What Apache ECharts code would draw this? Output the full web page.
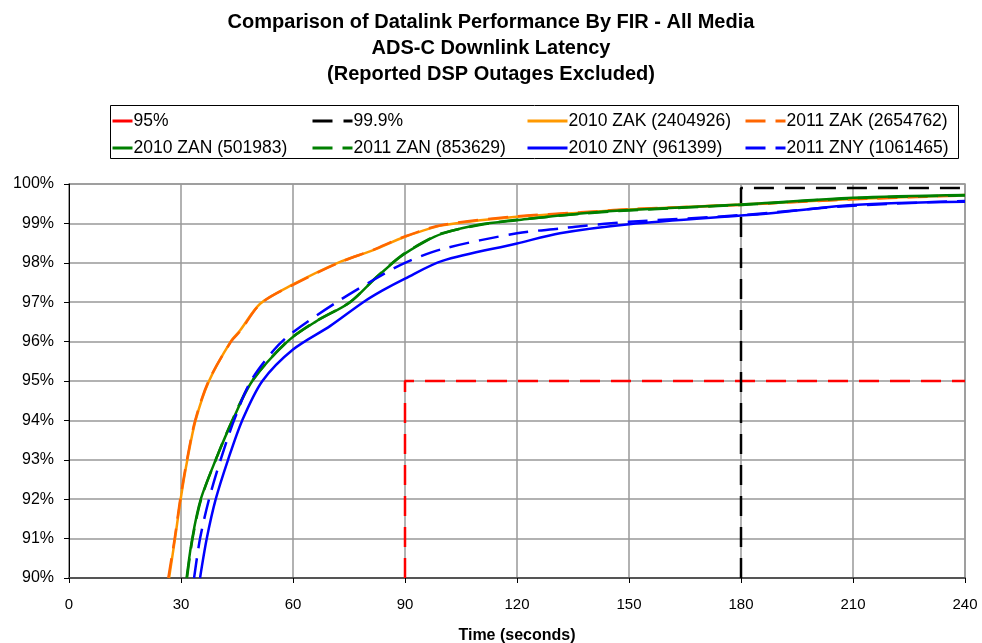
<!DOCTYPE html>
<html>
<head>
<meta charset="utf-8">
<script src="https://cdn.jsdelivr.net/npm/echarts@6/dist/echarts.min.js"></script>
<style>
html,body{margin:0;padding:0;background:#fff;}
#chart{width:982px;height:643px;}
</style>
</head>
<body>
<div id="chart"></div>
<script>
// ---- data (x = seconds, y = percent) ----
var titleLines = ['Comparison of Datalink Performance By FIR - All Media', 'ADS-C Downlink Latency', '(Reported DSP Outages Excluded)'];
var xAxisName = 'Time (seconds)';
var seriesNames = ['95%', '99.9%', '2010 ZAK (2404926)', '2011 ZAK (2654762)', '2010 ZAN (501983)', '2011 ZAN (853629)', '2010 ZNY (961399)', '2011 ZNY (1061465)'];

var ref95 = [[90, 90], [90, 95], [240, 95]];
var ref999 = [[180, 90], [180, 99.9], [240, 99.9]];

var zak2010 = [[26.8,90],[28.4,91],[29.9,92],[31.7,93],[33.9,94],[37.5,95],[43.3,96],[45.8,96.28],[51.2,96.96],[60,97.45],[72,98.0],[81.5,98.32],[90,98.66],[100,98.95],[120,99.17],[137,99.27],[150,99.35],[180,99.48],[210,99.62],[240,99.72]];
var zak2011 = [[26.6,90],[28.3,91],[29.8,92],[31.6,93],[33.8,94],[37.4,95],[43.4,96],[45.9,96.27],[51.4,96.97],[60,97.44],[72,97.99],[81.5,98.33],[90,98.67],[100,98.96],[120,99.18],[137,99.28],[150,99.36],[180,99.47],[210,99.61],[240,99.71]];
var zan2010 = [[31.5,90],[33.0,91],[35.3,92],[39.3,93],[43.8,94],[49.1,95],[58.5,96],[66,96.5],[75.3,97],[82,97.6],[88.7,98.15],[95,98.52],[100,98.74],[110,98.97],[120,99.08],[137,99.25],[150,99.34],[180,99.48],[210,99.65],[240,99.72]];
var zan2011 = [[31.6,90],[33.1,91],[35.4,92],[39.3,93],[43.7,94],[49.0,95],[58.4,96],[66,96.51],[75.2,97],[82,97.61],[88.7,98.16],[95,98.53],[100,98.75],[110,98.96],[120,99.09],[137,99.24],[150,99.33],[180,99.47],[210,99.64],[240,99.71]];
var zny2010 = [[35.1,90],[36.9,91],[39.3,92],[42.6,93],[46.4,94],[51.8,95],[60,95.8],[70,96.4],[78.8,97],[84,97.3],[90,97.6],[100,98.05],[120,98.49],[131.5,98.75],[150,98.98],[180,99.2],[185,99.23],[210,99.47],[240,99.55]];
var zny2011 = [[33.5,90],[35.1,91],[37.5,92],[40.6,93],[44.2,94],[48.7,95],[55,95.8],[60,96.24],[71.7,97],[84,97.7],[90,98.0],[100,98.35],[120,98.75],[131.5,98.87],[137,98.93],[150,99.04],[180,99.21],[210,99.45],[240,99.57]];

var xTicks = {min: 0, max: 240, interval: 30};
var yTicks = {min: 90, max: 100, interval: 1};

// ---- styles ----
var seriesData = [ref95, ref999, zak2010, zak2011, zan2010, zan2011, zny2010, zny2011];
var seriesColors = ['#FF0000', '#000000', '#FF9900', '#FF6600', '#008000', '#008000', '#0000FF', '#0000FF'];
var seriesDash = [[20, 11], [20, 11], 'solid', [20, 10], 'solid', [20, 10], 'solid', [20, 10]];
// legend item: [left, top, iconWidth]
var legendPos = [[111, 112, 20], [311, 112, 40], [526, 112, 40], [744, 112, 40], [111, 139, 20], [311, 139, 40], [526, 139, 40], [744, 139, 40]];

var font = 'Arial, "Liberation Sans", sans-serif';

var series = seriesNames.map(function (n, i) {
  return {
    name: n,
    type: 'line',
    data: seriesData[i],
    symbol: 'none',
    smooth: i >= 2 ? 0.3 : false,
    lineStyle: {color: seriesColors[i], width: 2.5, type: seriesDash[i]},
    itemStyle: {color: seriesColors[i]},
    z: 2 + i,
    animation: false
  };
});

var legends = seriesNames.map(function (n, i) {
  return {
    data: [n],
    left: legendPos[i][0],
    top: legendPos[i][1],
    itemWidth: legendPos[i][2],
    itemHeight: 14,
    itemGap: 0,
    padding: 0,
    selectedMode: false,
    itemStyle: {opacity: 0, borderWidth: 0},
    lineStyle: {width: 3},
    textStyle: {fontFamily: font, fontSize: 17.5, color: '#000', padding: [0, 0, 0, -4]}
  };
});

var chart = echarts.init(document.getElementById('chart'));
chart.setOption({
  backgroundColor: '#fff',
  animation: false,
  title: {
    text: titleLines.join('\n'),
    left: 'center',
    top: 4,
    textStyle: {fontFamily: font, fontSize: 20, fontWeight: 'bold', color: '#000', lineHeight: 26}
  },
  legend: legends,
  graphic: [{
    type: 'rect',
    shape: {x: 110.5, y: 105.5, width: 848, height: 53},
    style: {fill: 'none', stroke: '#000', lineWidth: 1},
    z: -1
  }],
  grid: {left: 69, right: 17, top: 184, bottom: 65, show: true, borderColor: '#999', borderWidth: 1.5, containLabel: false, outerBoundsMode: 'none'},
  xAxis: {
    type: 'value',
    min: xTicks.min, max: xTicks.max, interval: xTicks.interval,
    name: xAxisName,
    nameLocation: 'middle',
    nameGap: 50,
    nameTextStyle: {fontFamily: font, fontSize: 16, fontWeight: 'bold', color: '#000'},
    axisLine: {show: true, onZero: false, lineStyle: {color: '#555', width: 2}},
    axisTick: {show: true, length: 5, inside: false, lineStyle: {color: '#000', width: 1}},
    axisLabel: {fontFamily: font, fontSize: 15, color: '#000', margin: 19},
    splitLine: {show: true, lineStyle: {color: '#999', width: 1.5}}
  },
  yAxis: {
    type: 'value',
    min: yTicks.min, max: yTicks.max, interval: yTicks.interval,
    axisLine: {show: true, lineStyle: {color: '#000', width: 1}},
    axisTick: {show: true, length: 5, lineStyle: {color: '#000', width: 1}},
    axisLabel: {fontFamily: font, fontSize: 16, color: '#000', margin: 15, formatter: function (v) { return v + '%'; }},
    splitLine: {show: true, lineStyle: {color: '#999', width: 1.5}}
  },
  series: series
});
</script>
</body>
</html>
